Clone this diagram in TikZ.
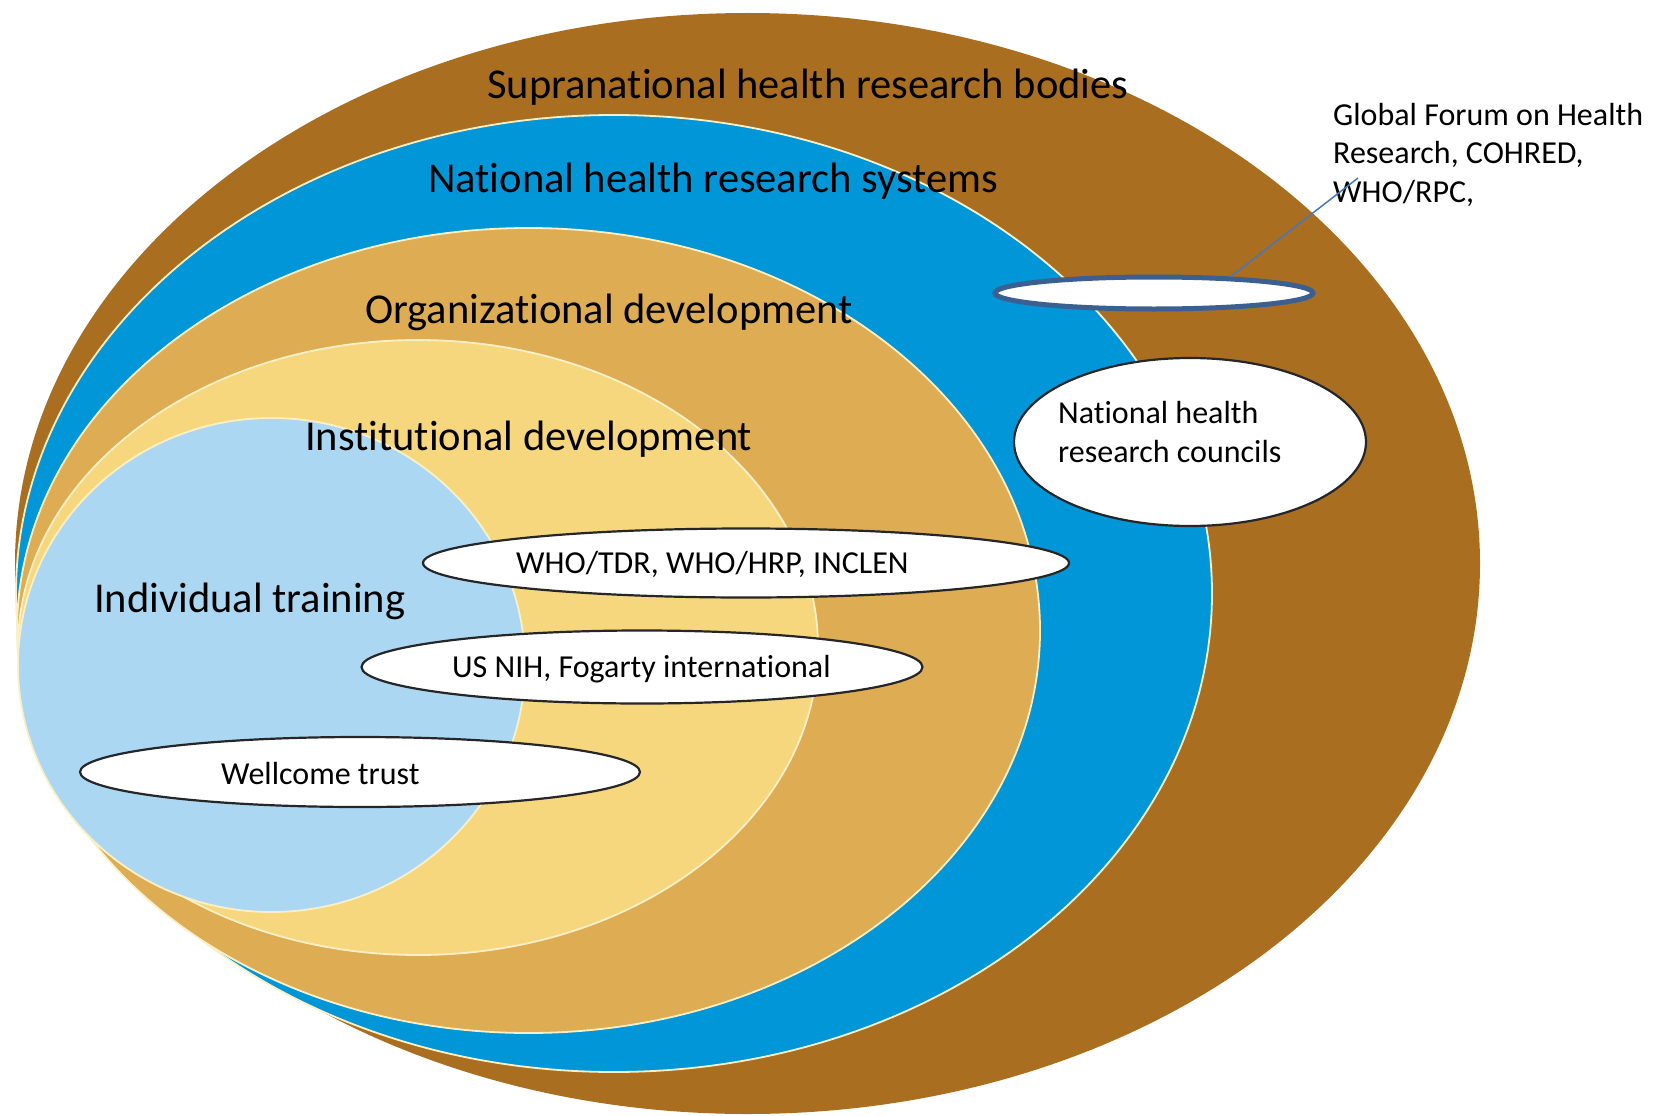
\documentclass[tikz,border=0pt]{standalone}
\usepackage{fontspec}
\setmainfont{Carlito}[Ligatures=NoCommon]
\usetikzlibrary{shapes.geometric}
\definecolor{cBrown}{RGB}{170,110,32}
\definecolor{cBlue}{RGB}{0,150,215}
\definecolor{cOrange}{RGB}{222,172,82}
\definecolor{cYellow}{RGB}{247,215,125}
\definecolor{cLight}{RGB}{172,215,243}
\definecolor{cRim}{RGB}{250,240,200}
\definecolor{cSlate}{RGB}{60,95,145}
\definecolor{cLine}{RGB}{70,120,190}
\tikzset{
  band/.style={fill=#1, draw=cRim, line width=1.8pt},
  bigtxt/.style={anchor=base west, inner sep=0pt, font=\fontsize{42.5}{50}\selectfont},
  smalltxt/.style={anchor=base west, inner sep=0pt, font=\fontsize{32}{38.5}\selectfont, align=left},
  oval/.style={ellipse, fill=white, draw=black!85, line width=2.2pt, inner sep=0pt},
}
\begin{document}
\begin{tikzpicture}[x=1pt,y=-1pt]
\useasboundingbox (0,0) rectangle (1660,1116);
% concentric bands
\draw[fill=cBrown, draw=none] (747.5,563.5) ellipse [x radius=732.5, y radius=550.5];
\draw[band=cBlue] (614,593.5) ellipse [x radius=598, y radius=478.5];
\draw[band=cOrange] (528.5,630.5) ellipse [x radius=511.5, y radius=402.5];
\draw[band=cYellow] (418,647.5) ellipse [x radius=400, y radius=307.5];
\draw[band=cLight] (271.5,665) ellipse [x radius=253.5, y radius=247];
% band labels
\node[bigtxt] (supra) at (487,98) {Supranational health research bodies};
\node[bigtxt] (nhrs) at (428,192) {National health research systems};
\node[bigtxt] (orgdev) at (365,323) {Organizational development};
\node[bigtxt] (instdev) at (305,450) {Institutional development};
\node[bigtxt] (indiv) at (94,612) {Individual training};
% ovals
\node[oval, minimum width=646, minimum height=69] (eWho) at (746,563) {};
\node[oval, minimum width=561, minimum height=73] (eNih) at (642,667) {};
\node[oval, minimum width=560, minimum height=70] (eWell) at (360,772) {};
\node[oval, minimum width=352, minimum height=168] (eNhrc) at (1190,442) {};
\node[ellipse, fill=white, draw=cSlate, line width=5pt, inner sep=0pt, minimum width=318, minimum height=32] (eTop) at (1154,293) {};
% oval texts
\node[smalltxt] (tWho) at (516,573) {WHO/TDR, WHO/HRP, INCLEN};
\node[smalltxt] (tNih) at (452,677) {US NIH, Fogarty international};
\node[smalltxt] (tWell) at (221,784) {Wellcome trust};
\node[smalltxt] (tNhrc) at (1058,462) {National health\\research councils};
\node[smalltxt] (tGlobal) at (1333,202) {Global Forum on Health\\Research, COHRED,\\WHO/RPC,};
% connector
\coordinate (lineEnd) at (1358,178);
\draw[cLine, line width=1.5pt] (eTop.12) -- (lineEnd);
\end{tikzpicture}
\end{document}
